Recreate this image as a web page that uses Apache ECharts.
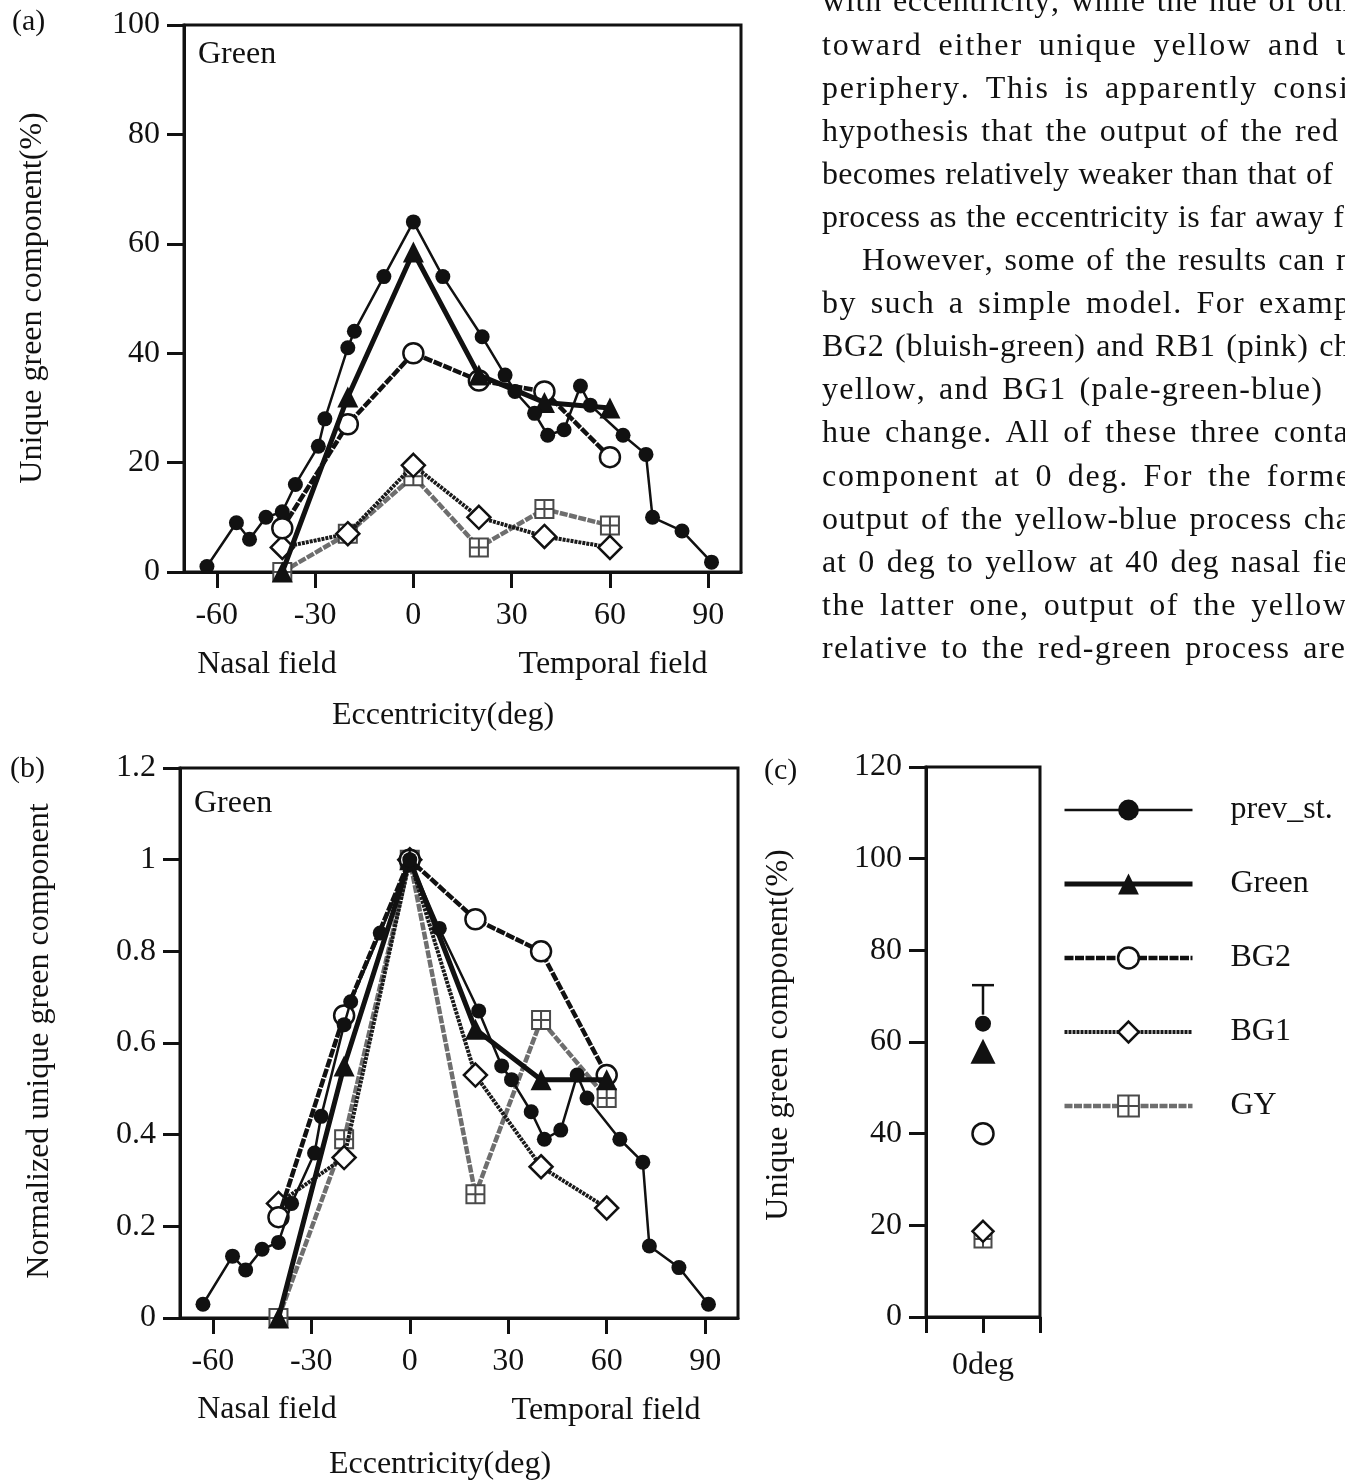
<!DOCTYPE html>
<html><head><meta charset="utf-8">
<script src="https://cdn.jsdelivr.net/npm/echarts@6/dist/echarts.min.js"></script>
<style>html,body{margin:0;padding:0;background:#fff}#main{width:1345px;height:1481px}</style>
</head><body><div id="main"></div>
<script>
// ---------------- data ----------------
const eccTicks = [-60, -30, 0, 30, 60, 90];
const ecc = [-40, -20, 0, 20, 40, 60];
const prevX = [-63, -54, -50, -45, -40, -36, -29, -27, -20, -18, -9, 0, 9, 21, 28, 31, 37, 41, 46, 51, 54, 64, 71, 73, 82, 91];
// (a) unique green component (%)
const prevA  = [1, 9, 6, 10, 11, 16, 23, 28, 41, 44, 54, 64, 54, 43, 36, 33, 29, 25, 26, 34, 30.5, 25, 21.5, 10, 7.5, 1.8];
const greenA = [0, 32, 58.5, 36, 31, 30];
const bg2A   = [8, 27, 40, 35, 33, 21];
const bg1A   = [4.5, 7, 19.5, 10, 6.5, 4.5];
const gyA    = [0, 7, 17.5, 4.5, 11.5, 8.5];
// (b) normalized unique green component
const prevB  = [0.03, 0.135, 0.105, 0.15, 0.165, 0.25, 0.36, 0.44, 0.64, 0.69, 0.84, 1, 0.85, 0.67, 0.55, 0.52, 0.45, 0.39, 0.41, 0.53, 0.48, 0.39, 0.34, 0.157, 0.11, 0.03];
const greenB = [0, 0.55, 1, 0.63, 0.52, 0.52];
const bg2B   = [0.22, 0.66, 1, 0.87, 0.8, 0.53];
const bg1B   = [0.25, 0.35, 1, 0.53, 0.33, 0.24];
const gyB    = [0, 0.39, 1, 0.27, 0.65, 0.48];
// (c) at 0 deg
const cX = [0];
const prevC = [64];
const prevCUpper = [72.4];
const greenC = [58];
const bg2C = [40];
const bg1C = [18.7];
const gyC = [17];
const seriesNames = ['prev_st.', 'Green', 'BG2', 'BG1', 'GY'];

// paragraph text (right of panel a)
const textLines = [
  'with eccentricity, while the hue of oth',
  'toward either unique yellow and u',
  'periphery. This is apparently consi',
  'hypothesis that the output of the red',
  'becomes relatively weaker than that of',
  'process as the eccentricity is far away f',
  'However, some of the results can n',
  'by such a simple model. For examp',
  'BG2 (bluish-green) and RB1 (pink) ch',
  'yellow, and BG1 (pale-green-blue)',
  'hue change. All of these three conta',
  'component at 0 deg. For the forme',
  'output of the yellow-blue process cha',
  'at 0 deg to yellow at 40 deg nasal fie',
  'the latter one, output of the yellow',
  'relative to the red-green process are'
];
// ---------------- layout ----------------
const FONT = 'Liberation Serif';
const INK = '#111';
const FS = 32;
const lineEnds = [1350, 1352, 1348, 1338, 1333, 1344, 1352, 1350, 1350, 1322, 1348, 1350, 1350, 1348, 1346, 1345];
const lineStarts = [822, 822, 822, 822, 822, 822, 862, 822, 822, 822, 822, 822, 822, 822, 822, 822];
const lineY0 = 3, lineStep = 43.1;

const pair = (xs, ys) => xs.map((x, i) => [x, ys[i]]);
const sqPath = 'path://M0,0L20,0L20,20L0,20Z M10,0L10,20 M0,10L20,10';
const st = {
  'prev_st.': {symbol: 'circle', symbolSize: 15, z: 6, itemStyle: {color: '#111', borderWidth: 0, opacity: 1}, lineStyle: {color: '#111', width: 2.5}},
  'Green': {symbol: 'triangle', symbolSize: 21, z: 5, itemStyle: {color: '#111', borderWidth: 0, opacity: 1}, lineStyle: {color: '#111', width: 5}},
  'BG2': {symbol: 'circle', symbolSize: 20, z: 4, itemStyle: {color: '#fff', borderColor: '#111', borderWidth: 2.5, opacity: 1}, lineStyle: {color: '#111', width: 4.5, type: [9, 1.5]}},
  'BG1': {symbol: 'diamond', symbolSize: 23, z: 3, itemStyle: {color: '#fff', borderColor: '#111', borderWidth: 2.5, opacity: 1}, lineStyle: {color: '#1a1a1a', width: 4, type: [3, 1]}},
  'GY': {symbol: sqPath, symbolSize: 18, z: 2, itemStyle: {color: '#fff', borderColor: '#4a4a4a', borderWidth: 2, opacity: 1}, lineStyle: {color: '#6e6e6e', width: 4.5, type: [8, 1.5]}}
};
function lineSeries(name, xs, ys, gi) {
  const s = st[name];
  return {type: 'line', name, xAxisIndex: gi, yAxisIndex: gi, data: pair(xs, ys), symbol: s.symbol, symbolSize: s.symbolSize,
    z: s.z, itemStyle: s.itemStyle, lineStyle: s.lineStyle, showSymbol: true, silent: true, animation: false};
}
function dotSeries(name, ys, size) {
  const s = st[name];
  return {type: 'scatter', name, xAxisIndex: 2, yAxisIndex: 2, data: pair(cX, ys), symbol: s.symbol, symbolSize: size || s.symbolSize,
    z: s.z, itemStyle: Object.assign({}, s.itemStyle, {opacity: 1}), silent: true, animation: false};
}

const axLine = {show: true, onZero: false, lineStyle: {color: INK, width: 3}};
const lab = (m, extra) => Object.assign({fontSize: FS, fontFamily: FONT, color: INK, margin: m}, extra || {});
function xAx(gi) {
  return {type: 'value', gridIndex: gi, min: -70, max: 100, axisLine: axLine,
    axisTick: {show: true, length: 16, lineStyle: {color: INK, width: 3}, customValues: eccTicks},
    axisLabel: lab(28, {customValues: eccTicks}), splitLine: {show: false}};
}
function yAx(gi, max, interval) {
  return {type: 'value', gridIndex: gi, min: 0, max, interval, axisLine: axLine,
    axisTick: {show: true, length: 17, lineStyle: {color: INK, width: 3}},
    axisLabel: lab(24), splitLine: {show: false}};
}

// paragraph as per-character text, justified to the measured line ends
const cv = document.createElement('canvas').getContext('2d');
cv.font = FS + 'px "' + FONT + '"';
const paraEls = [];
textLines.forEach((str, li) => {
  const chars = [...str];
  const w = chars.map(c => cv.measureText(c).width);
  const natural = w.reduce((a, b) => a + b, 0);
  const extra = lineEnds[li] - lineStarts[li] - natural;
  const wts = [];
  let wsum = 0;
  for (let i = 0; i < chars.length - 1; i++) { const k = chars[i] === ' ' ? 4 : 1; wts.push(k); wsum += k; }
  let x = lineStarts[li];
  const y = lineY0 + li * lineStep;
  chars.forEach((c, i) => {
    if (c !== ' ') paraEls.push({type: 'text', x, y, silent: true,
      style: {text: c, fontSize: FS, fontFamily: FONT, fill: INK, align: 'left', verticalAlign: 'middle'}});
    x += w[i] + (i < wts.length ? extra * wts[i] / wsum : 0);
  });
});

function txt(text, x, y, opts) {
  return Object.assign({type: 'text', x, y, silent: true,
    style: Object.assign({text, fontSize: FS, fontFamily: FONT, fill: INK, align: 'center', verticalAlign: 'middle'}, (opts && opts.style) || {})},
    opts && opts.rotation ? {rotation: opts.rotation} : {});
}
const rot = Math.PI / 2;
const graphics = [
  txt('(a)', 12, 22, {style: {align: 'left', fontSize: 30}}),
  txt('(b)', 10, 769, {style: {align: 'left', fontSize: 30}}),
  txt('(c)', 764, 771, {style: {align: 'left', fontSize: 30}}),
  txt('Green', 198, 55, {style: {align: 'left'}}),
  txt('Green', 194, 804, {style: {align: 'left'}}),
  txt('Unique green component(%)', 33, 298, {rotation: rot}),
  txt('Nasal field', 267, 665),
  txt('Temporal field', 613, 665),
  txt('Eccentricity(deg)', 443, 716),
  txt('Normalized unique green component', 40, 1041, {rotation: rot}),
  txt('Nasal field', 267, 1410),
  txt('Temporal field', 606, 1411),
  txt('Eccentricity(deg)', 440, 1465),
  txt('Unique green component(%)', 779, 1035, {rotation: rot})
].concat(paraEls);

const errSeries = {
  type: 'custom', name: 'err', xAxisIndex: 2, yAxisIndex: 2, z: 7, silent: true, animation: false,
  data: cX.map((x, i) => [x, prevC[i], prevCUpper[i]]),
  renderItem(params, api) {
    const lo = api.coord([api.value(0), api.value(1)]);
    const hi = api.coord([api.value(0), api.value(2)]);
    const s = {stroke: INK, lineWidth: 2.5};
    return {type: 'group', children: [
      {type: 'line', shape: {x1: lo[0], y1: lo[1] - 9, x2: hi[0], y2: hi[1]}, style: s},
      {type: 'line', shape: {x1: hi[0] - 11, y1: hi[1], x2: hi[0] + 11, y2: hi[1]}, style: s}
    ]};
  }
};

const option = {
  backgroundColor: '#fff',
  animation: false,
  grid: [
    {left: 184, top: 25, width: 557, height: 547, show: true, borderColor: INK, borderWidth: 3, containLabel: false},
    {left: 180, top: 768, width: 558, height: 550, show: true, borderColor: INK, borderWidth: 3, containLabel: false},
    {left: 926, top: 767, width: 114, height: 550, show: true, borderColor: INK, borderWidth: 3, containLabel: false}
  ],
  xAxis: [xAx(0), xAx(1),
    {type: 'value', gridIndex: 2, min: -1, max: 1, interval: 1, axisLine: axLine,
     axisTick: {show: true, length: 16, lineStyle: {color: INK, width: 3}},
     axisLabel: lab(33, {formatter: v => (v === 0 ? '0deg' : '')}), splitLine: {show: false}}],
  yAxis: [yAx(0, 100, 20), yAx(1, 1.2, 0.2), yAx(2, 120, 20)],
  legend: {
    data: seriesNames, orient: 'vertical', left: 1062, top: 794, padding: 0,
    itemWidth: 128, itemHeight: 26, itemGap: 42, selectedMode: false,
    lineStyle: {width: 'inherit'}, itemStyle: {borderWidth: 'inherit'},
    textStyle: {fontSize: FS, fontFamily: FONT, color: INK, lineHeight: 32, padding: [0, 0, 0, 33]}
  },
  graphic: graphics,
  series: [
    lineSeries('prev_st.', prevX, prevA, 0),
    lineSeries('Green', ecc, greenA, 0),
    lineSeries('BG2', ecc, bg2A, 0),
    lineSeries('BG1', ecc, bg1A, 0),
    lineSeries('GY', ecc, gyA, 0),
    lineSeries('prev_st.', prevX, prevB, 1),
    lineSeries('Green', ecc, greenB, 1),
    lineSeries('BG2', ecc, bg2B, 1),
    lineSeries('BG1', ecc, bg1B, 1),
    lineSeries('GY', ecc, gyB, 1),
    dotSeries('GY', gyC, 17),
    dotSeries('BG1', bg1C, 21),
    dotSeries('BG2', bg2C, 21),
    dotSeries('Green', greenC, 25),
    dotSeries('prev_st.', prevC, 16),
    errSeries
  ]
};
const chart = echarts.init(document.getElementById('main'), null, {renderer: 'canvas', width: 1345, height: 1481});
chart.setOption(option);
</script></body></html>
